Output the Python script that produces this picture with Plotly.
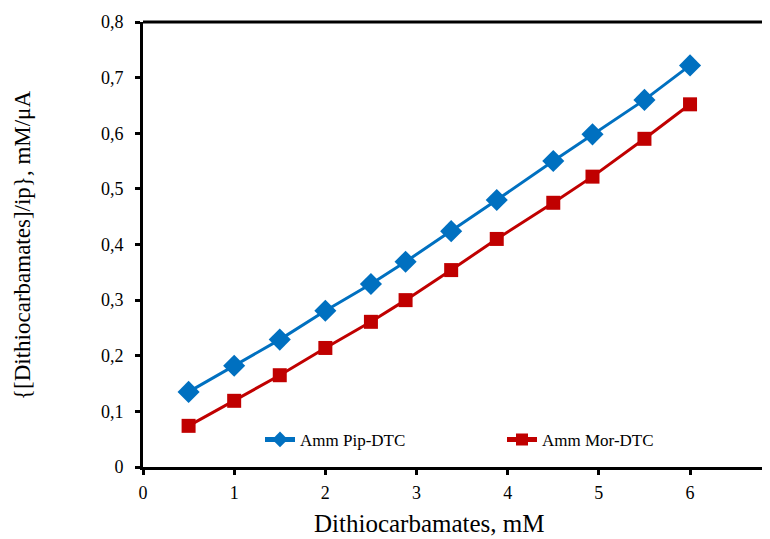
import plotly.graph_objects as go

x_vals = [0.5, 1.0, 1.5, 2.0, 2.5, 2.88, 3.38, 3.88, 4.5, 4.93, 5.5, 6.0]
y_pip = [0.135, 0.182, 0.229, 0.281, 0.329, 0.369, 0.424, 0.480, 0.550, 0.598, 0.660, 0.722]
y_mor = [0.074, 0.119, 0.165, 0.214, 0.261, 0.300, 0.354, 0.410, 0.475, 0.522, 0.590, 0.652]
names = ["Amm Pip-DTC", "Amm Mor-DTC"]
x_title = "Dithiocarbamates, mM"
y_title = "{[Dithiocarbamates]/ip}, mM/μA"

FONT = "'Times New Roman', 'Liberation Serif', 'DejaVu Serif', serif"

fig = go.Figure()
fig.add_trace(go.Scatter(x=x_vals, y=y_pip, name=names[0], mode="lines+markers",
                         line=dict(color="#0070C0", width=3),
                         marker=dict(symbol="diamond", size=17, color="#0070C0"),
                         legend="legend"))
fig.add_trace(go.Scatter(x=x_vals, y=y_mor, name=names[1], mode="lines+markers",
                         line=dict(color="#C00000", width=3),
                         marker=dict(symbol="square", size=14, color="#C00000"),
                         legend="legend2"))

leg_common = dict(xanchor="left", yanchor="middle", font=dict(family=FONT, size=17),
                  bgcolor="rgba(0,0,0,0)", itemsizing="constant", borderwidth=0)
fig.update_layout(
    width=762, height=531,
    margin=dict(l=135, r=0, t=14, b=72),
    paper_bgcolor="white", plot_bgcolor="white",
    separators=",.",
    font=dict(family=FONT, size=18, color="black"),
    showlegend=True,
    legend=dict(x=(268 - 143 - 8) / 627, y=0.061, **leg_common),
    legend2=dict(x=(510 - 143 - 8) / 627, y=0.061, **leg_common),
)
fig.update_xaxes(range=[0, 6.877], dtick=1, tick0=0, showgrid=False, zeroline=False,
                 showline=True, linecolor="black", linewidth=3,
                 ticks="outside", ticklen=5, tickwidth=3, tickcolor="black",
                 tickfont=dict(family=FONT, size=18), ticklabelstandoff=2)
fig.update_yaxes(range=[0, 0.8], dtick=0.1, tick0=0, showgrid=False, zeroline=False,
                 showline=True, linecolor="black", linewidth=3,
                 ticks="outside", ticklen=5, tickwidth=3, tickcolor="black",
                 tickfont=dict(family=FONT, size=18), ticklabelstandoff=8)
fig.add_shape(type="line", xref="paper", yref="paper", x0=0, x1=1, y0=1, y1=1,
              line=dict(color="black", width=3))
fig.add_annotation(text=x_title, xref="paper", yref="paper", x=(429 - 143) / 627, y=-0.126,
                   xanchor="center", yanchor="middle", showarrow=False,
                   font=dict(family=FONT, size=25))
fig.add_annotation(text=y_title, xref="paper", yref="paper", x=(22 - 143) / 627, y=(467 - 246) / 445,
                   xanchor="center", yanchor="middle", showarrow=False, textangle=-90,
                   font=dict(family=FONT, size=23))
fig.write_html("out.html")
